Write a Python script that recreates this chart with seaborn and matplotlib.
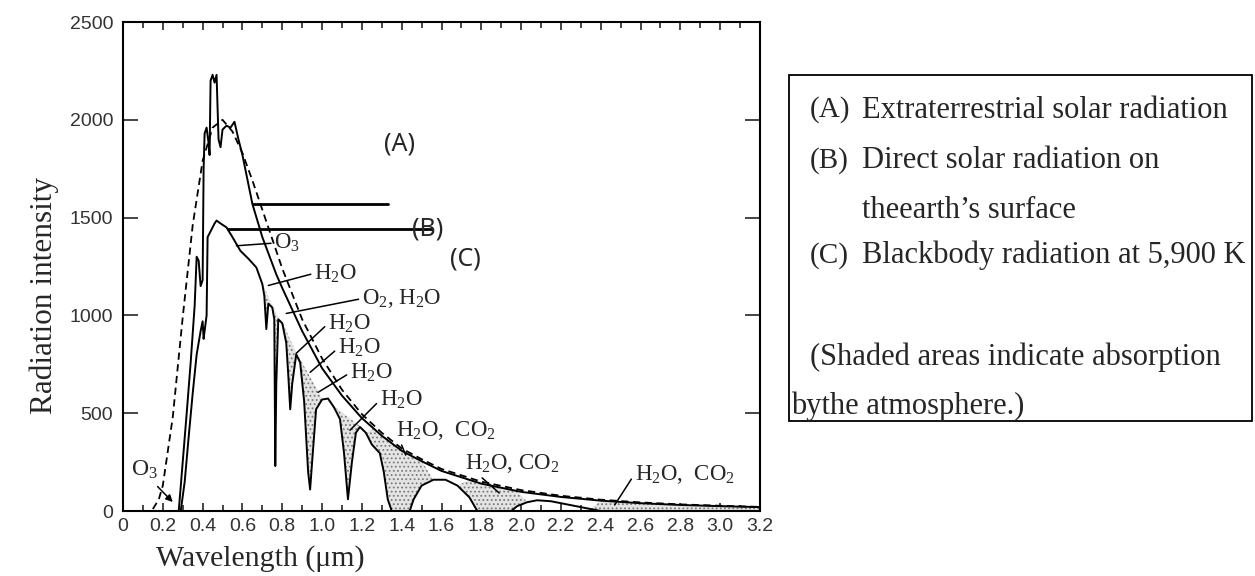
import numpy as np
import matplotlib
matplotlib.use('Agg')
import matplotlib.pyplot as plt
import seaborn as sns
from matplotlib.patches import Rectangle

# (A) extraterrestrial solar radiation
wl_A = [0.28, 0.30, 0.32, 0.34, 0.36, 0.37, 0.38, 0.39, 0.40, 0.405, 0.41, 0.42, 0.43, 0.435,
        0.44, 0.45, 0.46, 0.47, 0.48, 0.49, 0.50, 0.52, 0.54, 0.56, 0.58, 0.60, 0.65, 0.70,
        0.77, 0.80, 0.90, 1.00, 1.10, 1.20, 1.30, 1.40, 1.50, 1.60, 1.80, 2.00, 2.20, 2.40,
        2.60, 2.80, 3.00, 3.20]
rad_A = [0, 250, 500, 760, 1050, 1300, 1280, 1150, 1180, 1750, 1930, 1960, 1880, 1820,
         2200, 2230, 2190, 2230, 1900, 1860, 1950, 1970, 1960, 1990, 1900, 1820, 1570, 1400,
         1210, 1140, 920, 730, 590, 475, 385, 308, 255, 205, 140, 98, 72, 53,
         40, 31, 25, 20]

# (B) direct solar radiation on the earth's surface
wl_B = [0.29, 0.31, 0.33, 0.35, 0.37, 0.39, 0.40, 0.405, 0.41, 0.42, 0.425, 0.44, 0.46, 0.47,
        0.49, 0.52, 0.55, 0.59, 0.63, 0.67, 0.70, 0.71, 0.72, 0.73, 0.75, 0.76, 0.765, 0.77,
        0.78, 0.80, 0.82, 0.83, 0.84, 0.85, 0.87, 0.89, 0.91, 0.93, 0.94, 0.95, 0.97, 1.00,
        1.03, 1.06, 1.09, 1.11, 1.13, 1.15, 1.17, 1.19, 1.22, 1.25, 1.29, 1.31, 1.33, 1.35,
        1.44, 1.46, 1.50, 1.56, 1.62, 1.68, 1.74, 1.78, 1.95, 1.98, 2.03, 2.08, 2.15, 2.25,
        2.35, 2.40, 2.70, 3.20]
rad_B = [0, 150, 380, 600, 800, 920, 970, 880, 920, 1000, 1400, 1430, 1470, 1485,
         1470, 1450, 1400, 1330, 1290, 1245, 1160, 1100, 930, 1060, 1040, 980, 230, 650,
         980, 960, 860, 700, 520, 650, 800, 760, 560, 200, 110, 250, 520, 570,
         575, 530, 470, 300, 60, 250, 400, 430, 400, 340, 296, 200, 60, 0,
         0, 60, 130, 160, 160, 130, 70, 0, 0, 25, 45, 55, 50, 30,
         10, 0, 0, 0]

# (C) blackbody radiation at 5,900 K
wl_C = [0.15, 0.18, 0.20, 0.25, 0.30, 0.35, 0.40, 0.45, 0.50, 0.55, 0.60, 0.65, 0.70, 0.75,
        0.80, 0.90, 1.00, 1.10, 1.20, 1.30, 1.40, 1.50, 1.60, 1.80, 2.00, 2.20, 2.40, 2.60,
        2.80, 3.00, 3.20]
rad_C = [10, 60, 130, 480, 990, 1460, 1790, 1960, 2000, 1940, 1830, 1690, 1540, 1390,
         1240, 980, 780, 620, 495, 400, 320, 265, 215, 150, 107, 78, 58, 44,
         34, 27, 21]

# top edge of the stippled absorption areas
shade_wl = [0.29, 0.70, 0.78, 0.80, 0.87, 1.00, 1.06, 1.19, 1.25, 1.30, 1.40, 1.50, 1.60,
            1.74, 1.80, 2.00, 2.10, 2.40, 2.60, 2.80, 3.00, 3.20]
shade_top = [0, 1160, 990, 965, 810, 580, 535, 435, 420, 390, 305, 255, 205,
             160, 140, 98, 85, 53, 40, 31, 25, 20]
bands = [(0.69, 0.79), (0.80, 0.99), (1.06, 1.21), (1.25, 1.50), (1.73, 2.00), (2.36, 3.20)]

xticks = [0, 0.2, 0.4, 0.6, 0.8, 1.0, 1.2, 1.4, 1.6, 1.8, 2.0, 2.2, 2.4, 2.6, 2.8, 3.0, 3.2]
xtick_labels = ['0', '0.2', '0.4', '0.6', '0.8', '1.0', '1.2', '1.4', '1.6', '1.8', '2.0',
                '2.2', '2.4', '2.6', '2.8', '3.0', '3.2']
yticks = [0, 500, 1000, 1500, 2000, 2500]

legend_lines = ['Extraterrestrial solar radiation',
                'Direct solar radiation on',
                'theearth\u2019s surface',
                'Blackbody radiation at 5,900 K']

sns.set_style('ticks')
plt.rcParams['font.family'] = ['Liberation Serif', 'DejaVu Serif']
plt.rcParams['mathtext.fontset'] = 'custom'
plt.rcParams['mathtext.rm'] = 'Liberation Serif'
plt.rcParams['mathtext.it'] = 'Liberation Serif'
plt.rcParams['hatch.linewidth'] = 0.8

fig = plt.figure(figsize=(12.55, 5.76), dpi=100)
ax = fig.add_axes([0.098, 0.1128, 0.5076, 0.849])

# stippled absorption areas
wb = np.array(wl_B)
rb = np.array(rad_B)
top = np.interp(wb, shade_wl, shade_top)
inband = np.zeros(len(wb), dtype=bool)
for lo, hi in bands:
    inband |= (wb >= lo) & (wb <= hi)
ax.fill_between(wb, rb, top, where=inband & (top > rb), interpolate=True,
                facecolor='#e4e4e4', edgecolor='#7a7a7a', hatch='....', linewidth=0)

sns.lineplot(x=wl_C, y=rad_C, ax=ax, color='black', lw=1.3, estimator=None,
             linestyle=(0, (4, 2.5)))
sns.lineplot(x=wl_A, y=rad_A, ax=ax, color='black', lw=1.4, estimator=None)
sns.lineplot(x=wl_B, y=rad_B, ax=ax, color='black', lw=1.4, estimator=None)

ax.set_xlim(0, 3.2)
ax.set_ylim(0, 2500)
ax.set_xticks(xticks)
ax.set_xticklabels(xtick_labels)
ax.set_xticks(np.arange(0.1, 3.2, 0.2), minor=True)
ax.set_yticks(yticks)
ax.set_yticklabels([str(v) for v in yticks])
ax.tick_params(axis='both', which='both', direction='in', top=True, right=True,
               labelcolor='#333333', labelsize=14, width=1.2)
ax.tick_params(axis='y', which='major', length=11, pad=7)
ax.tick_params(axis='x', which='major', length=6, pad=5)
ax.tick_params(axis='x', which='minor', length=4)
for lab in ax.get_xticklabels() + ax.get_yticklabels():
    lab.set_family(['Liberation Sans', 'DejaVu Sans'])
for s in ax.spines.values():
    s.set_linewidth(1.5)
    s.set_color('black')

ax.set_xlabel('Wavelength (\u03bcm)', fontsize=21.5)
ax.xaxis.set_label_coords(0.215, -0.07)
ax.set_ylabel('Radiation intensity', fontsize=22.5)
ax.yaxis.set_label_coords(-0.10, 0.44)

# (A) (B) (C) pointers
ax.plot([0.653, 1.332], [1571, 1571], color='black', lw=2)
ax.plot([0.528, 1.553], [1443, 1443], color='black', lw=2)
sans = ['Noto Sans', 'DejaVu Sans']
ax.text(1.39, 1877, '(A)', fontsize=18, family=sans, ha='center', va='center')
ax.text(1.53, 1443, '(B)', fontsize=18, family=sans, ha='center', va='center')
ax.text(1.72, 1290, '(C)', fontsize=18, family=sans, ha='center', va='center')

# absorber labels
chem = [('O$_3$', (0.57, 1356), (0.76, 1370)),
        ('H$_2$O', (0.73, 1153), (0.96, 1215)),
        ('O$_2$, H$_2$O', (0.82, 1010), (1.20, 1086)),
        ('H$_2$O', (0.87, 806), (1.03, 958)),
        ('H$_2$O', (0.94, 709), (1.08, 832)),
        ('H$_2$O', (0.98, 607), (1.14, 706)),
        ('H$_2$O', (1.14, 413), (1.29, 566)),
        ('H$_2$O,  CO$_2$', (1.42, 286), (1.37, 413)),
        ('H$_2$O, CO$_2$', (1.89, 92), (1.72, 245)),
        ('H$_2$O,  CO$_2$', (2.47, 31), (2.57, 189))]
for txt, xy, xyt in chem:
    ax.annotate(txt, xy=xy, xytext=xyt, fontsize=16.5, ha='left', va='center',
                arrowprops=dict(arrowstyle='-', color='black', lw=1.1,
                                shrinkA=0, shrinkB=0, relpos=(0, 0.5)))
ax.annotate('O$_3$', xy=(0.25, 46), xytext=(0.04, 209), fontsize=17, ha='left', va='center',
            arrowprops=dict(arrowstyle='-|>', color='black', lw=1.1, mutation_scale=10,
                            shrinkA=2, shrinkB=0, relpos=(0.8, 0)))

# legend box
fig.patches.append(Rectangle((0.6287, 0.269), 0.3689, 0.6008, transform=fig.transFigure,
                             fill=False, edgecolor='black', lw=1.3))
rows_y = [0.809, 0.722, 0.634, 0.556]
tags = ['(A)', '(B)', '', '(C)']
for ty, tag, line in zip(rows_y, tags, legend_lines):
    if tag:
        fig.text(0.6454, ty, tag, fontsize=21, va='center', ha='left')
    fig.text(0.6869, ty, line, fontsize=22, va='center', ha='left')
fig.text(0.6454, 0.380, '(Shaded areas indicate absorption', fontsize=22, va='center', ha='left')
fig.text(0.6300, 0.295, 'bythe atmosphere.)', fontsize=22, va='center', ha='left')

fig.savefig('out.png', dpi=100)
